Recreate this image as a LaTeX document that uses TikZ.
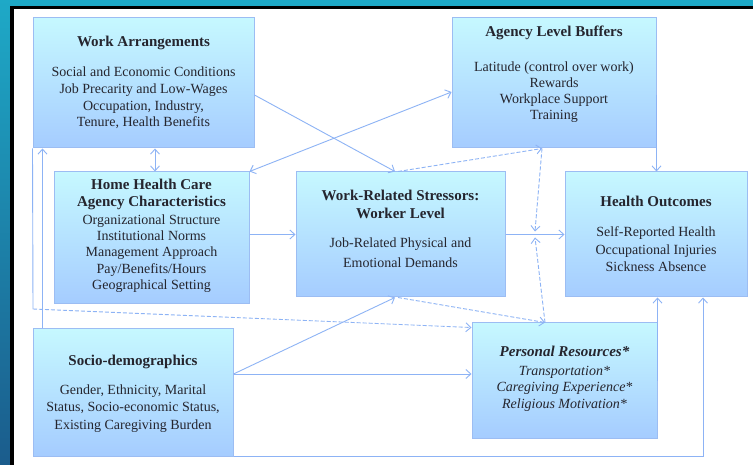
\documentclass[tikz,border=0pt]{standalone}
\usepackage{fontspec}
\setmainfont{Liberation Serif}
\usetikzlibrary{arrows.meta}

\definecolor{frameteal}{HTML}{1EA9C7}
\definecolor{framedeep}{HTML}{1B5C8C}
\definecolor{boxedge}{HTML}{9CBDF3}
\definecolor{boxtop}{HTML}{C6F8FF}
\definecolor{boxbot}{HTML}{A5CCFF}
\definecolor{linkblue}{HTML}{8DB3F5}
\definecolor{ink}{HTML}{25252E}

\tikzset{
  panel/.style={draw=boxedge, line width=1pt, top color=boxtop, bottom color=boxbot, inner sep=0pt},
  ttl/.style={font=\fontsize{15}{17}\selectfont\bfseries, text=ink, align=center, inner sep=0pt},
  one/.style={text height=10pt, text depth=3pt},
  bdy/.style={font=\fontsize{14}{16.5}\selectfont, text=ink, align=center, inner sep=0pt},
  conn/.style={draw=linkblue, line width=0.9pt},
  dsh/.style={dash pattern=on 4pt off 2pt},
  >={Straight Barb[length=5pt,width=9pt]}
}

\begin{document}
\begin{tikzpicture}[x=1pt,y=-1pt]
\useasboundingbox (0,0) rectangle (753,465);

% frame
\fill[frameteal] (0,0) rectangle (753,465);
\shade[top color=frameteal, bottom color=framedeep] (0,0) rectangle (10,465);
\fill[black] (9.5,6) rectangle (753,465);
\fill[white] (13.5,9.5) rectangle (753,465);

% boxes
\node[panel, minimum width=221pt, minimum height=130pt] (WA)  at (143.5,83) {};
\node[panel, minimum width=204pt, minimum height=130pt] (ALB) at (554,83) {};
\node[panel, minimum width=195pt, minimum height=132pt] (HHC) at (151.5,238) {};
\node[panel, minimum width=209pt, minimum height=125pt] (WRS) at (400.5,234.5) {};
\node[panel, minimum width=182pt, minimum height=125pt] (HO)  at (656,234.5) {};
\node[panel, minimum width=200pt, minimum height=127pt] (SD)  at (133,392.5) {};
\node[panel, minimum width=185pt, minimum height=115pt] (PR)  at (564.5,380.5) {};

% connectors
\begin{scope}[conn]
\draw[->] ([yshift=-12pt]WA.east) -- ([xshift=-5.5pt]WRS.north);
\draw[<->] (HHC.north east) -- ([yshift=-9pt]ALB.west);
\draw[<->] ([xshift=3.5pt]HHC.north) -- ([xshift=3.5pt]HHC.north |- WA.south);
\draw[->] ([xshift=10pt]SD.north west) -- ([xshift=10pt]SD.north west |- WA.south);
\coordinate (wabend) at (33,309);
\draw (WA.south west) -- (wabend);
\draw[dsh,->] (wabend) -- ([yshift=-5pt]PR.north west);
\draw[->] (WRS.west -| HHC.east) -- (WRS.west);
\draw[->] (WRS.east) -- (HO.west);
\coordinate (mod) at (535,234.5);
\draw[dsh,->] ([xshift=-2.5pt]WRS.north) -- ([xshift=-12pt]ALB.south);
\draw[dsh,->] ([xshift=-12pt]ALB.south) -- ([yshift=3pt]mod);
\draw[dsh,->] ([xshift=-19.5pt]PR.north) -- ([yshift=-3pt]mod);
\draw[dsh,->] ([xshift=-2.5pt]WRS.south) -- ([xshift=-19.5pt]PR.north);
\coordinate (sdout) at ([yshift=18.5pt]SD.east);
\draw[->] (sdout) -- ([xshift=-5.5pt]WRS.south);
\draw[->] (sdout) -- (sdout -| PR.west);
\draw[->] (SD.south east) -| ([xshift=47pt]HO.south);
\draw[->] (PR.east) -- (PR.east |- HO.south);
\draw[->] ([yshift=-12pt]ALB.east) -- (ALB.east |- HO.north);
\end{scope}

% texts
\node[ttl,one] (WAt) at (143.5,43) {Work Arrangements};
\node[bdy,font=\fontsize{14}{16.7}\selectfont] (WAb) at (143.5,98)
  {Social and Economic Conditions\\Job Precarity and Low-Wages\\Occupation, Industry,\\Tenure, Health Benefits};

\node[ttl,one] (ALBt) at (554,33) {Agency Level Buffers};
\node[bdy,font=\fontsize{14}{16}\selectfont] (ALBb) at (554,92)
  {Latitude (control over work)\\Rewards\\Workplace Support\\Training};

\node[ttl] (HHCt) at (151.5,194.5) {Home Health Care\\Agency Characteristics};
\node[bdy,font=\fontsize{14}{16.25}\selectfont] (HHCb) at (151.5,253.5)
  {Organizational Structure\\Institutional Norms\\Management Approach\\Pay/Benefits/Hours\\Geographical Setting};

\node[ttl,font=\fontsize{15}{18}\selectfont\bfseries] (WRSt) at (400.5,204) {Work-Related Stressors:\\Worker Level};
\node[bdy,font=\fontsize{14}{20}\selectfont] (WRSb) at (400.5,253)
  {Job-Related Physical and\\Emotional Demands};

\node[ttl,one] (HOt) at (656,203) {Health Outcomes};
\node[bdy,font=\fontsize{14}{17.5}\selectfont] (HOb) at (656,249.5)
  {Self-Reported Health\\Occupational Injuries\\Sickness Absence};

\node[ttl,one] (SDt) at (133,362) {Socio-demographics};
\node[bdy,font=\fontsize{14}{17.5}\selectfont] (SDb) at (133,408.5)
  {Gender, Ethnicity, Marital\\Status, Socio-economic Status,\\Existing Caregiving Burden};

\node[ttl,one,font=\fontsize{15}{17}\selectfont\bfseries\itshape] (PRt) at (564.5,353) {Personal Resources*};
\node[bdy,font=\fontsize{14}{16.5}\selectfont\itshape] (PRb) at (564.5,388.5)
  {Transportation*\\Caregiving Experience*\\Religious Motivation*};
\end{tikzpicture}
\end{document}
